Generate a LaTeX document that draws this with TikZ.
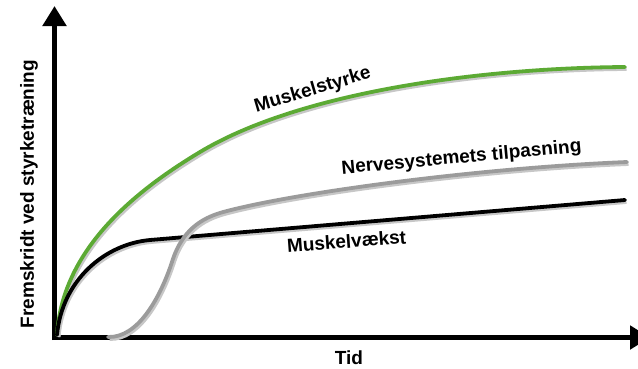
\documentclass[tikz,border=0pt]{standalone}
\usepackage{fontspec}
\setmainfont{Liberation Sans}
\usetikzlibrary{arrows.meta}

\definecolor{styrkegreen}{RGB}{92,170,52}
\definecolor{nervegray}{RGB}{155,155,155}

\begin{document}
\begin{tikzpicture}[x=1pt, y=-1pt,
    axis/.style={draw, line width=5pt, -{Triangle[length=20pt, width=23pt]}},
    curve/.style={line width=3.8pt, line cap=round,
        preaction={draw=black!22, line width=3.8pt, transform canvas={shift={(1.5pt,-2pt)}}}},
    lbl/.style={font=\fontsize{19}{22}\selectfont\bfseries, anchor=base, inner sep=0pt}]

    \useasboundingbox (0,0) rectangle (638,368);

    % Axes
    \coordinate (origin) at (54.5,337.5);
    \coordinate (ytip) at (54.5,6);
    \coordinate (xtip) at (650,337.5);
    \draw [axis] ([yshift=-2.5pt]origin) -- (ytip);
    \draw [axis] ([xshift=-2.5pt]origin) -- (xtip);

    % Curves
    \draw [curve, draw=styrkegreen] (57,335) .. controls (62,255) and (125,197) .. (200,152)
        .. controls (300,92) and (480,68) .. (625,67);
    \draw [curve, draw=black] (57,335) .. controls (62,280) and (105,244) .. (150,240)
        -- (625,200);
    \draw [curve, draw=nervegray] (108,337) .. controls (138,338) and (160,298) .. (172,262)
        .. controls (183,226) and (207,216) .. (227,211)
        .. controls (300,192) and (480,168) .. (627,162);

    % Labels
    \node [lbl, rotate=16.4] (muskelstyrke) at (314,95) {Muskelstyrke};
    \node [lbl, rotate=5.3] (nerve) at (462,163) {Nervesystemets tilpasning};
    \node [lbl, rotate=4.3] (vaekst) at (347,248) {Muskelvækst};
    \node [lbl] (tid) at (349,364) {Tid};
    \node [lbl, rotate=90] (fremskridt) at (34,194) {Fremskridt ved styrketræning};
\end{tikzpicture}
\end{document}
